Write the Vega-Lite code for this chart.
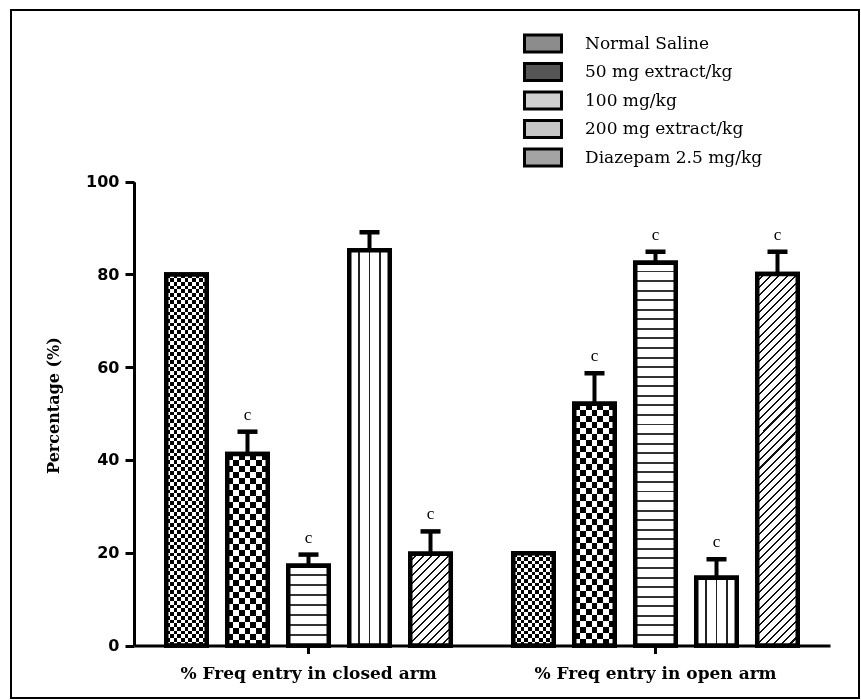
{
  "$schema": "https://vega.github.io/schema/vega-lite/v6.json",
  "width": 848,
  "height": 688,
  "autosize": "none",
  "padding": {"left": 11, "top": 10, "right": 2, "bottom": 2},
  "background": "white",
  "data": {
    "values": [
      {"arm": "% Freq entry in closed arm", "treatment": "Normal Saline", "id": "c1", "value": 80.0, "upper": null, "sig": ""},
      {"arm": "% Freq entry in closed arm", "treatment": "50 mg extract/kg", "id": "c2", "value": 41.3, "upper": 46.1, "sig": "c"},
      {"arm": "% Freq entry in closed arm", "treatment": "100 mg/kg", "id": "c3", "value": 17.2, "upper": 19.6, "sig": "c"},
      {"arm": "% Freq entry in closed arm", "treatment": "200 mg extract/kg", "id": "c4", "value": 85.2, "upper": 89.1, "sig": ""},
      {"arm": "% Freq entry in closed arm", "treatment": "Diazepam 2.5 mg/kg", "id": "c5", "value": 19.8, "upper": 24.6, "sig": "c"},
      {"arm": "% Freq entry in open arm", "treatment": "Normal Saline", "id": "o1", "value": 19.9, "upper": null, "sig": ""},
      {"arm": "% Freq entry in open arm", "treatment": "50 mg extract/kg", "id": "o2", "value": 52.1, "upper": 58.7, "sig": "c"},
      {"arm": "% Freq entry in open arm", "treatment": "100 mg/kg", "id": "o3", "value": 82.5, "upper": 84.9, "sig": "c"},
      {"arm": "% Freq entry in open arm", "treatment": "200 mg extract/kg", "id": "o4", "value": 14.6, "upper": 18.6, "sig": "c"},
      {"arm": "% Freq entry in open arm", "treatment": "Diazepam 2.5 mg/kg", "id": "o5", "value": 80.1, "upper": 84.9, "sig": "c"}
    ]
  },
  "encoding": {
    "x": {
      "field": "arm", "type": "nominal",
      "scale": {"range": [123, 819], "paddingInner": 0.121, "paddingOuter": 0.0634},
      "axis": {
        "title": null, "orient": "bottom", "offset": -52.5, "labelAngle": 0,
        "domainWidth": 3, "domainColor": "black", "tickWidth": 3, "tickSize": 8, "tickColor": "black",
        "labelFont": "DejaVu Serif", "labelFontWeight": "bold", "labelFontSize": 17, "labelColor": "black",
        "labelPadding": 12, "labelLimit": 400
      }
    },
    "xOffset": {
      "field": "treatment", "type": "nominal",
      "scale": {"domain": ["Normal Saline", "50 mg extract/kg", "100 mg/kg", "200 mg extract/kg", "Diazepam 2.5 mg/kg"], "paddingInner": 0.336, "paddingOuter": 0.168}
    },
    "y": {
      "field": "value", "type": "quantitative", "title": "Percentage (%)",
      "scale": {"domain": [0, 100], "range": [635.5, 171.7], "nice": false},
      "axis": {
        "title": "Percentage (%)", "offset": -123, "values": [0, 20, 40, 60, 80, 100], "grid": false,
        "domainWidth": 3, "domainColor": "black", "tickWidth": 3, "tickSize": 9, "tickColor": "black",
        "labelFont": "DejaVu Sans", "labelFontWeight": "bold", "labelFontSize": 16, "labelColor": "black", "labelPadding": 6,
        "titleFont": "DejaVu Serif", "titleFontWeight": "bold", "titleFontSize": 16, "titleColor": "black",
        "titleX": -73, "titleY": 395, "titleAngle": 270, "titleBaseline": "bottom", "titleAlign": "center"
      }
    }
  },
  "layer": [
    {
      "mark": {"type": "bar", "stroke": "black", "strokeWidth": 4.5},
      "encoding": {
        "fill": {
          "field": "treatment", "type": "nominal",
          "scale": {
            "domain": ["Normal Saline", "50 mg extract/kg", "100 mg/kg", "200 mg extract/kg", "Diazepam 2.5 mg/kg"],
            "range": ["#8c8c8c", "#555555", "#cfcfcf", "#c6c6c6", "#a3a3a3"]
          },
          "legend": {
            "orient": "none", "legendX": 520.5, "legendY": 22, "title": null,
            "symbolType": "M-1.85,-0.85H1.85V0.85H-1.85Z", "symbolSize": 400,
            "symbolStrokeColor": "black", "symbolStrokeWidth": 3, "symbolOpacity": 1,
            "labelFont": "DejaVu Serif", "labelFontSize": 17, "labelColor": "black",
            "labelOffset": 30.5, "rowPadding": -0.5, "padding": 0, "labelLimit": 400
          }
        }
      }
    },
    {
      "mark": {"type": "bar", "stroke": "black", "strokeWidth": 4.5},
      "encoding": {
        "fill": {
          "condition": [
            {"test": "datum.id === 'c1'", "value": {"gradient": "linear", "x1": 0, "y1": 0, "x2": 0, "y2": 1, "stops": [
                {"offset": 0, "color": "#fff"}, {"offset": 0.01, "color": "#fff"}, {"offset": 0.01, "color": "#000"}, {"offset": 0.02, "color": "#000"},
                {"offset": 0.02, "color": "#fff"}, {"offset": 0.03, "color": "#fff"}, {"offset": 0.03, "color": "#000"}, {"offset": 0.04, "color": "#000"},
                {"offset": 0.04, "color": "#fff"}, {"offset": 0.05, "color": "#fff"}, {"offset": 0.05, "color": "#000"}, {"offset": 0.06, "color": "#000"},
                {"offset": 0.06, "color": "#fff"}, {"offset": 0.07, "color": "#fff"}, {"offset": 0.07, "color": "#000"}, {"offset": 0.08, "color": "#000"},
                {"offset": 0.08, "color": "#fff"}, {"offset": 0.09, "color": "#fff"}, {"offset": 0.09, "color": "#000"}, {"offset": 0.1, "color": "#000"},
                {"offset": 0.1, "color": "#fff"}, {"offset": 0.11, "color": "#fff"}, {"offset": 0.11, "color": "#000"}, {"offset": 0.12, "color": "#000"},
                {"offset": 0.12, "color": "#fff"}, {"offset": 0.13, "color": "#fff"}, {"offset": 0.13, "color": "#000"}, {"offset": 0.14, "color": "#000"},
                {"offset": 0.14, "color": "#fff"}, {"offset": 0.15, "color": "#fff"}, {"offset": 0.15, "color": "#000"}, {"offset": 0.16, "color": "#000"},
                {"offset": 0.16, "color": "#fff"}, {"offset": 0.17, "color": "#fff"}, {"offset": 0.17, "color": "#000"}, {"offset": 0.18, "color": "#000"},
                {"offset": 0.18, "color": "#fff"}, {"offset": 0.19, "color": "#fff"}, {"offset": 0.19, "color": "#000"}, {"offset": 0.2, "color": "#000"},
                {"offset": 0.2, "color": "#fff"}, {"offset": 0.21, "color": "#fff"}, {"offset": 0.21, "color": "#000"}, {"offset": 0.22, "color": "#000"},
                {"offset": 0.22, "color": "#fff"}, {"offset": 0.23, "color": "#fff"}, {"offset": 0.23, "color": "#000"}, {"offset": 0.24, "color": "#000"},
                {"offset": 0.24, "color": "#fff"}, {"offset": 0.25, "color": "#fff"}, {"offset": 0.25, "color": "#000"}, {"offset": 0.26, "color": "#000"},
                {"offset": 0.26, "color": "#fff"}, {"offset": 0.27, "color": "#fff"}, {"offset": 0.27, "color": "#000"}, {"offset": 0.28, "color": "#000"},
                {"offset": 0.28, "color": "#fff"}, {"offset": 0.29, "color": "#fff"}, {"offset": 0.29, "color": "#000"}, {"offset": 0.3, "color": "#000"},
                {"offset": 0.3, "color": "#fff"}, {"offset": 0.31, "color": "#fff"}, {"offset": 0.31, "color": "#000"}, {"offset": 0.32, "color": "#000"},
                {"offset": 0.32, "color": "#fff"}, {"offset": 0.33, "color": "#fff"}, {"offset": 0.33, "color": "#000"}, {"offset": 0.34, "color": "#000"},
                {"offset": 0.34, "color": "#fff"}, {"offset": 0.35, "color": "#fff"}, {"offset": 0.35, "color": "#000"}, {"offset": 0.36, "color": "#000"},
                {"offset": 0.36, "color": "#fff"}, {"offset": 0.37, "color": "#fff"}, {"offset": 0.37, "color": "#000"}, {"offset": 0.38, "color": "#000"},
                {"offset": 0.38, "color": "#fff"}, {"offset": 0.39, "color": "#fff"}, {"offset": 0.39, "color": "#000"}, {"offset": 0.4, "color": "#000"},
                {"offset": 0.4, "color": "#fff"}, {"offset": 0.41, "color": "#fff"}, {"offset": 0.41, "color": "#000"}, {"offset": 0.42, "color": "#000"},
                {"offset": 0.42, "color": "#fff"}, {"offset": 0.43, "color": "#fff"}, {"offset": 0.43, "color": "#000"}, {"offset": 0.44, "color": "#000"},
                {"offset": 0.44, "color": "#fff"}, {"offset": 0.45, "color": "#fff"}, {"offset": 0.45, "color": "#000"}, {"offset": 0.46, "color": "#000"},
                {"offset": 0.46, "color": "#fff"}, {"offset": 0.47, "color": "#fff"}, {"offset": 0.47, "color": "#000"}, {"offset": 0.48, "color": "#000"},
                {"offset": 0.48, "color": "#fff"}, {"offset": 0.49, "color": "#fff"}, {"offset": 0.49, "color": "#000"}, {"offset": 0.5, "color": "#000"},
                {"offset": 0.5, "color": "#fff"}, {"offset": 0.51, "color": "#fff"}, {"offset": 0.51, "color": "#000"}, {"offset": 0.52, "color": "#000"},
                {"offset": 0.52, "color": "#fff"}, {"offset": 0.53, "color": "#fff"}, {"offset": 0.53, "color": "#000"}, {"offset": 0.54, "color": "#000"},
                {"offset": 0.54, "color": "#fff"}, {"offset": 0.55, "color": "#fff"}, {"offset": 0.55, "color": "#000"}, {"offset": 0.56, "color": "#000"},
                {"offset": 0.56, "color": "#fff"}, {"offset": 0.57, "color": "#fff"}, {"offset": 0.57, "color": "#000"}, {"offset": 0.58, "color": "#000"},
                {"offset": 0.58, "color": "#fff"}, {"offset": 0.59, "color": "#fff"}, {"offset": 0.59, "color": "#000"}, {"offset": 0.6, "color": "#000"},
                {"offset": 0.6, "color": "#fff"}, {"offset": 0.61, "color": "#fff"}, {"offset": 0.61, "color": "#000"}, {"offset": 0.62, "color": "#000"},
                {"offset": 0.62, "color": "#fff"}, {"offset": 0.63, "color": "#fff"}, {"offset": 0.63, "color": "#000"}, {"offset": 0.64, "color": "#000"},
                {"offset": 0.64, "color": "#fff"}, {"offset": 0.65, "color": "#fff"}, {"offset": 0.65, "color": "#000"}, {"offset": 0.66, "color": "#000"},
                {"offset": 0.66, "color": "#fff"}, {"offset": 0.67, "color": "#fff"}, {"offset": 0.67, "color": "#000"}, {"offset": 0.68, "color": "#000"},
                {"offset": 0.68, "color": "#fff"}, {"offset": 0.69, "color": "#fff"}, {"offset": 0.69, "color": "#000"}, {"offset": 0.7, "color": "#000"},
                {"offset": 0.7, "color": "#fff"}, {"offset": 0.71, "color": "#fff"}, {"offset": 0.71, "color": "#000"}, {"offset": 0.72, "color": "#000"},
                {"offset": 0.72, "color": "#fff"}, {"offset": 0.73, "color": "#fff"}, {"offset": 0.73, "color": "#000"}, {"offset": 0.74, "color": "#000"},
                {"offset": 0.74, "color": "#fff"}, {"offset": 0.75, "color": "#fff"}, {"offset": 0.75, "color": "#000"}, {"offset": 0.76, "color": "#000"},
                {"offset": 0.76, "color": "#fff"}, {"offset": 0.77, "color": "#fff"}, {"offset": 0.77, "color": "#000"}, {"offset": 0.78, "color": "#000"},
                {"offset": 0.78, "color": "#fff"}, {"offset": 0.79, "color": "#fff"}, {"offset": 0.79, "color": "#000"}, {"offset": 0.8, "color": "#000"},
                {"offset": 0.8, "color": "#fff"}, {"offset": 0.81, "color": "#fff"}, {"offset": 0.81, "color": "#000"}, {"offset": 0.82, "color": "#000"},
                {"offset": 0.82, "color": "#fff"}, {"offset": 0.83, "color": "#fff"}, {"offset": 0.83, "color": "#000"}, {"offset": 0.84, "color": "#000"},
                {"offset": 0.84, "color": "#fff"}, {"offset": 0.85, "color": "#fff"}, {"offset": 0.85, "color": "#000"}, {"offset": 0.86, "color": "#000"},
                {"offset": 0.86, "color": "#fff"}, {"offset": 0.87, "color": "#fff"}, {"offset": 0.87, "color": "#000"}, {"offset": 0.88, "color": "#000"},
                {"offset": 0.88, "color": "#fff"}, {"offset": 0.89, "color": "#fff"}, {"offset": 0.89, "color": "#000"}, {"offset": 0.9, "color": "#000"},
                {"offset": 0.9, "color": "#fff"}, {"offset": 0.91, "color": "#fff"}, {"offset": 0.91, "color": "#000"}, {"offset": 0.92, "color": "#000"},
                {"offset": 0.92, "color": "#fff"}, {"offset": 0.93, "color": "#fff"}, {"offset": 0.93, "color": "#000"}, {"offset": 0.94, "color": "#000"},
                {"offset": 0.94, "color": "#fff"}, {"offset": 0.95, "color": "#fff"}, {"offset": 0.95, "color": "#000"}, {"offset": 0.96, "color": "#000"},
                {"offset": 0.96, "color": "#fff"}, {"offset": 0.97, "color": "#fff"}, {"offset": 0.97, "color": "#000"}, {"offset": 0.98, "color": "#000"},
                {"offset": 0.98, "color": "#fff"}, {"offset": 0.99, "color": "#fff"}, {"offset": 0.99, "color": "#000"}, {"offset": 1, "color": "#000"}]}},
            {"test": "datum.id === 'o1'", "value": {"gradient": "linear", "x1": 0, "y1": 0, "x2": 0, "y2": 1, "stops": [
                {"offset": 0, "color": "#fff"}, {"offset": 0.04, "color": "#fff"}, {"offset": 0.04, "color": "#000"}, {"offset": 0.08, "color": "#000"},
                {"offset": 0.08, "color": "#fff"}, {"offset": 0.12, "color": "#fff"}, {"offset": 0.12, "color": "#000"}, {"offset": 0.16, "color": "#000"},
                {"offset": 0.16, "color": "#fff"}, {"offset": 0.2, "color": "#fff"}, {"offset": 0.2, "color": "#000"}, {"offset": 0.24, "color": "#000"},
                {"offset": 0.24, "color": "#fff"}, {"offset": 0.28, "color": "#fff"}, {"offset": 0.28, "color": "#000"}, {"offset": 0.32, "color": "#000"},
                {"offset": 0.32, "color": "#fff"}, {"offset": 0.36, "color": "#fff"}, {"offset": 0.36, "color": "#000"}, {"offset": 0.4, "color": "#000"},
                {"offset": 0.4, "color": "#fff"}, {"offset": 0.44, "color": "#fff"}, {"offset": 0.44, "color": "#000"}, {"offset": 0.48, "color": "#000"},
                {"offset": 0.48, "color": "#fff"}, {"offset": 0.52, "color": "#fff"}, {"offset": 0.52, "color": "#000"}, {"offset": 0.56, "color": "#000"},
                {"offset": 0.56, "color": "#fff"}, {"offset": 0.6, "color": "#fff"}, {"offset": 0.6, "color": "#000"}, {"offset": 0.64, "color": "#000"},
                {"offset": 0.64, "color": "#fff"}, {"offset": 0.68, "color": "#fff"}, {"offset": 0.68, "color": "#000"}, {"offset": 0.72, "color": "#000"},
                {"offset": 0.72, "color": "#fff"}, {"offset": 0.76, "color": "#fff"}, {"offset": 0.76, "color": "#000"}, {"offset": 0.8, "color": "#000"},
                {"offset": 0.8, "color": "#fff"}, {"offset": 0.84, "color": "#fff"}, {"offset": 0.84, "color": "#000"}, {"offset": 0.88, "color": "#000"},
                {"offset": 0.88, "color": "#fff"}, {"offset": 0.92, "color": "#fff"}, {"offset": 0.92, "color": "#000"}, {"offset": 0.96, "color": "#000"},
                {"offset": 0.96, "color": "#fff"}, {"offset": 1, "color": "#fff"}]}},
            {"test": "datum.id === 'c2'", "value": {"gradient": "linear", "x1": 0, "y1": 0, "x2": 0, "y2": 1, "stops": [
                {"offset": 0, "color": "#fff"}, {"offset": 0.03125, "color": "#fff"}, {"offset": 0.03125, "color": "#000"}, {"offset": 0.0625, "color": "#000"},
                {"offset": 0.0625, "color": "#fff"}, {"offset": 0.09375, "color": "#fff"}, {"offset": 0.09375, "color": "#000"}, {"offset": 0.125, "color": "#000"},
                {"offset": 0.125, "color": "#fff"}, {"offset": 0.15625, "color": "#fff"}, {"offset": 0.15625, "color": "#000"}, {"offset": 0.1875, "color": "#000"},
                {"offset": 0.1875, "color": "#fff"}, {"offset": 0.21875, "color": "#fff"}, {"offset": 0.21875, "color": "#000"}, {"offset": 0.25, "color": "#000"},
                {"offset": 0.25, "color": "#fff"}, {"offset": 0.28125, "color": "#fff"}, {"offset": 0.28125, "color": "#000"}, {"offset": 0.3125, "color": "#000"},
                {"offset": 0.3125, "color": "#fff"}, {"offset": 0.34375, "color": "#fff"}, {"offset": 0.34375, "color": "#000"}, {"offset": 0.375, "color": "#000"},
                {"offset": 0.375, "color": "#fff"}, {"offset": 0.40625, "color": "#fff"}, {"offset": 0.40625, "color": "#000"}, {"offset": 0.4375, "color": "#000"},
                {"offset": 0.4375, "color": "#fff"}, {"offset": 0.46875, "color": "#fff"}, {"offset": 0.46875, "color": "#000"}, {"offset": 0.5, "color": "#000"},
                {"offset": 0.5, "color": "#fff"}, {"offset": 0.53125, "color": "#fff"}, {"offset": 0.53125, "color": "#000"}, {"offset": 0.5625, "color": "#000"},
                {"offset": 0.5625, "color": "#fff"}, {"offset": 0.59375, "color": "#fff"}, {"offset": 0.59375, "color": "#000"}, {"offset": 0.625, "color": "#000"},
                {"offset": 0.625, "color": "#fff"}, {"offset": 0.65625, "color": "#fff"}, {"offset": 0.65625, "color": "#000"}, {"offset": 0.6875, "color": "#000"},
                {"offset": 0.6875, "color": "#fff"}, {"offset": 0.71875, "color": "#fff"}, {"offset": 0.71875, "color": "#000"}, {"offset": 0.75, "color": "#000"},
                {"offset": 0.75, "color": "#fff"}, {"offset": 0.78125, "color": "#fff"}, {"offset": 0.78125, "color": "#000"}, {"offset": 0.8125, "color": "#000"},
                {"offset": 0.8125, "color": "#fff"}, {"offset": 0.84375, "color": "#fff"}, {"offset": 0.84375, "color": "#000"}, {"offset": 0.875, "color": "#000"},
                {"offset": 0.875, "color": "#fff"}, {"offset": 0.90625, "color": "#fff"}, {"offset": 0.90625, "color": "#000"}, {"offset": 0.9375, "color": "#000"},
                {"offset": 0.9375, "color": "#fff"}, {"offset": 0.96875, "color": "#fff"}, {"offset": 0.96875, "color": "#000"}, {"offset": 1, "color": "#000"}]}},
            {"test": "datum.id === 'o2'", "value": {"gradient": "linear", "x1": 0, "y1": 0, "x2": 0, "y2": 1, "stops": [
                {"offset": 0, "color": "#fff"}, {"offset": 0.025, "color": "#fff"}, {"offset": 0.025, "color": "#000"}, {"offset": 0.05, "color": "#000"},
                {"offset": 0.05, "color": "#fff"}, {"offset": 0.075, "color": "#fff"}, {"offset": 0.075, "color": "#000"}, {"offset": 0.1, "color": "#000"},
                {"offset": 0.1, "color": "#fff"}, {"offset": 0.125, "color": "#fff"}, {"offset": 0.125, "color": "#000"}, {"offset": 0.15, "color": "#000"},
                {"offset": 0.15, "color": "#fff"}, {"offset": 0.175, "color": "#fff"}, {"offset": 0.175, "color": "#000"}, {"offset": 0.2, "color": "#000"},
                {"offset": 0.2, "color": "#fff"}, {"offset": 0.225, "color": "#fff"}, {"offset": 0.225, "color": "#000"}, {"offset": 0.25, "color": "#000"},
                {"offset": 0.25, "color": "#fff"}, {"offset": 0.275, "color": "#fff"}, {"offset": 0.275, "color": "#000"}, {"offset": 0.3, "color": "#000"},
                {"offset": 0.3, "color": "#fff"}, {"offset": 0.325, "color": "#fff"}, {"offset": 0.325, "color": "#000"}, {"offset": 0.35, "color": "#000"},
                {"offset": 0.35, "color": "#fff"}, {"offset": 0.375, "color": "#fff"}, {"offset": 0.375, "color": "#000"}, {"offset": 0.4, "color": "#000"},
                {"offset": 0.4, "color": "#fff"}, {"offset": 0.425, "color": "#fff"}, {"offset": 0.425, "color": "#000"}, {"offset": 0.45, "color": "#000"},
                {"offset": 0.45, "color": "#fff"}, {"offset": 0.475, "color": "#fff"}, {"offset": 0.475, "color": "#000"}, {"offset": 0.5, "color": "#000"},
                {"offset": 0.5, "color": "#fff"}, {"offset": 0.525, "color": "#fff"}, {"offset": 0.525, "color": "#000"}, {"offset": 0.55, "color": "#000"},
                {"offset": 0.55, "color": "#fff"}, {"offset": 0.575, "color": "#fff"}, {"offset": 0.575, "color": "#000"}, {"offset": 0.6, "color": "#000"},
                {"offset": 0.6, "color": "#fff"}, {"offset": 0.625, "color": "#fff"}, {"offset": 0.625, "color": "#000"}, {"offset": 0.65, "color": "#000"},
                {"offset": 0.65, "color": "#fff"}, {"offset": 0.675, "color": "#fff"}, {"offset": 0.675, "color": "#000"}, {"offset": 0.7, "color": "#000"},
                {"offset": 0.7, "color": "#fff"}, {"offset": 0.725, "color": "#fff"}, {"offset": 0.725, "color": "#000"}, {"offset": 0.75, "color": "#000"},
                {"offset": 0.75, "color": "#fff"}, {"offset": 0.775, "color": "#fff"}, {"offset": 0.775, "color": "#000"}, {"offset": 0.8, "color": "#000"},
                {"offset": 0.8, "color": "#fff"}, {"offset": 0.825, "color": "#fff"}, {"offset": 0.825, "color": "#000"}, {"offset": 0.85, "color": "#000"},
                {"offset": 0.85, "color": "#fff"}, {"offset": 0.875, "color": "#fff"}, {"offset": 0.875, "color": "#000"}, {"offset": 0.9, "color": "#000"},
                {"offset": 0.9, "color": "#fff"}, {"offset": 0.925, "color": "#fff"}, {"offset": 0.925, "color": "#000"}, {"offset": 0.95, "color": "#000"},
                {"offset": 0.95, "color": "#fff"}, {"offset": 0.975, "color": "#fff"}, {"offset": 0.975, "color": "#000"}, {"offset": 1, "color": "#000"}]}},
            {"test": "datum.id === 'c3'", "value": {"gradient": "linear", "x1": 0, "y1": 0, "x2": 0, "y2": 1, "stops": [
                {"offset": 0, "color": "#fff"}, {"offset": 0.1, "color": "#fff"}, {"offset": 0.1, "color": "#333"}, {"offset": 0.125, "color": "#333"},
                {"offset": 0.125, "color": "#fff"}, {"offset": 0.225, "color": "#fff"}, {"offset": 0.225, "color": "#333"}, {"offset": 0.25, "color": "#333"},
                {"offset": 0.25, "color": "#fff"}, {"offset": 0.35, "color": "#fff"}, {"offset": 0.35, "color": "#333"}, {"offset": 0.375, "color": "#333"},
                {"offset": 0.375, "color": "#fff"}, {"offset": 0.475, "color": "#fff"}, {"offset": 0.475, "color": "#333"}, {"offset": 0.5, "color": "#333"},
                {"offset": 0.5, "color": "#fff"}, {"offset": 0.6, "color": "#fff"}, {"offset": 0.6, "color": "#333"}, {"offset": 0.625, "color": "#333"},
                {"offset": 0.625, "color": "#fff"}, {"offset": 0.725, "color": "#fff"}, {"offset": 0.725, "color": "#333"}, {"offset": 0.75, "color": "#333"},
                {"offset": 0.75, "color": "#fff"}, {"offset": 0.85, "color": "#fff"}, {"offset": 0.85, "color": "#333"}, {"offset": 0.875, "color": "#333"},
                {"offset": 0.875, "color": "#fff"}, {"offset": 1, "color": "#fff"}]}},
            {"test": "datum.treatment === '200 mg extract/kg'", "value": {"gradient": "linear", "x1": 0, "y1": 0, "x2": 1, "y2": 0, "stops": [
                {"offset": 0, "color": "#fff"}, {"offset": 0.228, "color": "#fff"}, {"offset": 0.228, "color": "#222"}, {"offset": 0.272, "color": "#222"}, {"offset": 0.272, "color": "#fff"}, {"offset": 0.478, "color": "#fff"}, {"offset": 0.478, "color": "#222"}, {"offset": 0.522, "color": "#222"}, {"offset": 0.522, "color": "#fff"}, {"offset": 0.728, "color": "#fff"}, {"offset": 0.728, "color": "#222"}, {"offset": 0.772, "color": "#222"}, {"offset": 0.772, "color": "#fff"}, {"offset": 1, "color": "#fff"}]}},
            {"test": "datum.id === 'c5'", "value": {"gradient": "linear", "x1": 0, "y1": 0, "x2": 0.532, "y2": 1.206, "stops": [
                {"offset": 0, "color": "#fff"}, {"offset": 0.0469, "color": "#fff"}, {"offset": 0.0469, "color": "#111"}, {"offset": 0.0625, "color": "#111"},
                {"offset": 0.0625, "color": "#fff"}, {"offset": 0.1094, "color": "#fff"}, {"offset": 0.1094, "color": "#111"}, {"offset": 0.125, "color": "#111"},
                {"offset": 0.125, "color": "#fff"}, {"offset": 0.1719, "color": "#fff"}, {"offset": 0.1719, "color": "#111"}, {"offset": 0.1875, "color": "#111"},
                {"offset": 0.1875, "color": "#fff"}, {"offset": 0.2344, "color": "#fff"}, {"offset": 0.2344, "color": "#111"}, {"offset": 0.25, "color": "#111"},
                {"offset": 0.25, "color": "#fff"}, {"offset": 0.2969, "color": "#fff"}, {"offset": 0.2969, "color": "#111"}, {"offset": 0.3125, "color": "#111"},
                {"offset": 0.3125, "color": "#fff"}, {"offset": 0.3594, "color": "#fff"}, {"offset": 0.3594, "color": "#111"}, {"offset": 0.375, "color": "#111"},
                {"offset": 0.375, "color": "#fff"}, {"offset": 0.4219, "color": "#fff"}, {"offset": 0.4219, "color": "#111"}, {"offset": 0.4375, "color": "#111"},
                {"offset": 0.4375, "color": "#fff"}, {"offset": 0.4844, "color": "#fff"}, {"offset": 0.4844, "color": "#111"}, {"offset": 0.5, "color": "#111"},
                {"offset": 0.5, "color": "#fff"}, {"offset": 0.5469, "color": "#fff"}, {"offset": 0.5469, "color": "#111"}, {"offset": 0.5625, "color": "#111"},
                {"offset": 0.5625, "color": "#fff"}, {"offset": 0.6094, "color": "#fff"}, {"offset": 0.6094, "color": "#111"}, {"offset": 0.625, "color": "#111"},
                {"offset": 0.625, "color": "#fff"}, {"offset": 0.6719, "color": "#fff"}, {"offset": 0.6719, "color": "#111"}, {"offset": 0.6875, "color": "#111"},
                {"offset": 0.6875, "color": "#fff"}, {"offset": 0.7344, "color": "#fff"}, {"offset": 0.7344, "color": "#111"}, {"offset": 0.75, "color": "#111"},
                {"offset": 0.75, "color": "#fff"}, {"offset": 0.7969, "color": "#fff"}, {"offset": 0.7969, "color": "#111"}, {"offset": 0.8125, "color": "#111"},
                {"offset": 0.8125, "color": "#fff"}, {"offset": 0.8594, "color": "#fff"}, {"offset": 0.8594, "color": "#111"}, {"offset": 0.875, "color": "#111"},
                {"offset": 0.875, "color": "#fff"}, {"offset": 0.9219, "color": "#fff"}, {"offset": 0.9219, "color": "#111"}, {"offset": 0.9375, "color": "#111"},
                {"offset": 0.9375, "color": "#fff"}, {"offset": 0.9844, "color": "#fff"}, {"offset": 0.9844, "color": "#111"}, {"offset": 1, "color": "#111"}]}},
            {"test": "datum.id === 'o3'", "value": {"gradient": "linear", "x1": 0, "y1": 0, "x2": 0, "y2": 1, "stops": [
                {"offset": 0, "color": "#fff"}, {"offset": 0.02, "color": "#fff"}, {"offset": 0.02, "color": "#333"}, {"offset": 0.025, "color": "#333"},
                {"offset": 0.025, "color": "#fff"}, {"offset": 0.045, "color": "#fff"}, {"offset": 0.045, "color": "#333"}, {"offset": 0.05, "color": "#333"},
                {"offset": 0.05, "color": "#fff"}, {"offset": 0.07, "color": "#fff"}, {"offset": 0.07, "color": "#333"}, {"offset": 0.075, "color": "#333"},
                {"offset": 0.075, "color": "#fff"}, {"offset": 0.095, "color": "#fff"}, {"offset": 0.095, "color": "#333"}, {"offset": 0.1, "color": "#333"},
                {"offset": 0.1, "color": "#fff"}, {"offset": 0.12, "color": "#fff"}, {"offset": 0.12, "color": "#333"}, {"offset": 0.125, "color": "#333"},
                {"offset": 0.125, "color": "#fff"}, {"offset": 0.145, "color": "#fff"}, {"offset": 0.145, "color": "#333"}, {"offset": 0.15, "color": "#333"},
                {"offset": 0.15, "color": "#fff"}, {"offset": 0.17, "color": "#fff"}, {"offset": 0.17, "color": "#333"}, {"offset": 0.175, "color": "#333"},
                {"offset": 0.175, "color": "#fff"}, {"offset": 0.195, "color": "#fff"}, {"offset": 0.195, "color": "#333"}, {"offset": 0.2, "color": "#333"},
                {"offset": 0.2, "color": "#fff"}, {"offset": 0.22, "color": "#fff"}, {"offset": 0.22, "color": "#333"}, {"offset": 0.225, "color": "#333"},
                {"offset": 0.225, "color": "#fff"}, {"offset": 0.245, "color": "#fff"}, {"offset": 0.245, "color": "#333"}, {"offset": 0.25, "color": "#333"},
                {"offset": 0.25, "color": "#fff"}, {"offset": 0.27, "color": "#fff"}, {"offset": 0.27, "color": "#333"}, {"offset": 0.275, "color": "#333"},
                {"offset": 0.275, "color": "#fff"}, {"offset": 0.295, "color": "#fff"}, {"offset": 0.295, "color": "#333"}, {"offset": 0.3, "color": "#333"},
                {"offset": 0.3, "color": "#fff"}, {"offset": 0.32, "color": "#fff"}, {"offset": 0.32, "color": "#333"}, {"offset": 0.325, "color": "#333"},
                {"offset": 0.325, "color": "#fff"}, {"offset": 0.345, "color": "#fff"}, {"offset": 0.345, "color": "#333"}, {"offset": 0.35, "color": "#333"},
                {"offset": 0.35, "color": "#fff"}, {"offset": 0.37, "color": "#fff"}, {"offset": 0.37, "color": "#333"}, {"offset": 0.375, "color": "#333"},
                {"offset": 0.375, "color": "#fff"}, {"offset": 0.395, "color": "#fff"}, {"offset": 0.395, "color": "#333"}, {"offset": 0.4, "color": "#333"},
                {"offset": 0.4, "color": "#fff"}, {"offset": 0.42, "color": "#fff"}, {"offset": 0.42, "color": "#333"}, {"offset": 0.425, "color": "#333"},
                {"offset": 0.425, "color": "#fff"}, {"offset": 0.445, "color": "#fff"}, {"offset": 0.445, "color": "#333"}, {"offset": 0.45, "color": "#333"},
                {"offset": 0.45, "color": "#fff"}, {"offset": 0.47, "color": "#fff"}, {"offset": 0.47, "color": "#333"}, {"offset": 0.475, "color": "#333"},
                {"offset": 0.475, "color": "#fff"}, {"offset": 0.495, "color": "#fff"}, {"offset": 0.495, "color": "#333"}, {"offset": 0.5, "color": "#333"},
                {"offset": 0.5, "color": "#fff"}, {"offset": 0.52, "color": "#fff"}, {"offset": 0.52, "color": "#333"}, {"offset": 0.525, "color": "#333"},
                {"offset": 0.525, "color": "#fff"}, {"offset": 0.545, "color": "#fff"}, {"offset": 0.545, "color": "#333"}, {"offset": 0.55, "color": "#333"},
                {"offset": 0.55, "color": "#fff"}, {"offset": 0.57, "color": "#fff"}, {"offset": 0.57, "color": "#333"}, {"offset": 0.575, "color": "#333"},
                {"offset": 0.575, "color": "#fff"}, {"offset": 0.595, "color": "#fff"}, {"offset": 0.595, "color": "#333"}, {"offset": 0.6, "color": "#333"},
                {"offset": 0.6, "color": "#fff"}, {"offset": 0.62, "color": "#fff"}, {"offset": 0.62, "color": "#333"}, {"offset": 0.625, "color": "#333"},
                {"offset": 0.625, "color": "#fff"}, {"offset": 0.645, "color": "#fff"}, {"offset": 0.645, "color": "#333"}, {"offset": 0.65, "color": "#333"},
                {"offset": 0.65, "color": "#fff"}, {"offset": 0.67, "color": "#fff"}, {"offset": 0.67, "color": "#333"}, {"offset": 0.675, "color": "#333"},
                {"offset": 0.675, "color": "#fff"}, {"offset": 0.695, "color": "#fff"}, {"offset": 0.695, "color": "#333"}, {"offset": 0.7, "color": "#333"},
                {"offset": 0.7, "color": "#fff"}, {"offset": 0.72, "color": "#fff"}, {"offset": 0.72, "color": "#333"}, {"offset": 0.725, "color": "#333"},
                {"offset": 0.725, "color": "#fff"}, {"offset": 0.745, "color": "#fff"}, {"offset": 0.745, "color": "#333"}, {"offset": 0.75, "color": "#333"},
                {"offset": 0.75, "color": "#fff"}, {"offset": 0.77, "color": "#fff"}, {"offset": 0.77, "color": "#333"}, {"offset": 0.775, "color": "#333"},
                {"offset": 0.775, "color": "#fff"}, {"offset": 0.795, "color": "#fff"}, {"offset": 0.795, "color": "#333"}, {"offset": 0.8, "color": "#333"},
                {"offset": 0.8, "color": "#fff"}, {"offset": 0.82, "color": "#fff"}, {"offset": 0.82, "color": "#333"}, {"offset": 0.825, "color": "#333"},
                {"offset": 0.825, "color": "#fff"}, {"offset": 0.845, "color": "#fff"}, {"offset": 0.845, "color": "#333"}, {"offset": 0.85, "color": "#333"},
                {"offset": 0.85, "color": "#fff"}, {"offset": 0.87, "color": "#fff"}, {"offset": 0.87, "color": "#333"}, {"offset": 0.875, "color": "#333"},
                {"offset": 0.875, "color": "#fff"}, {"offset": 0.895, "color": "#fff"}, {"offset": 0.895, "color": "#333"}, {"offset": 0.9, "color": "#333"},
                {"offset": 0.9, "color": "#fff"}, {"offset": 0.92, "color": "#fff"}, {"offset": 0.92, "color": "#333"}, {"offset": 0.925, "color": "#333"},
                {"offset": 0.925, "color": "#fff"}, {"offset": 0.945, "color": "#fff"}, {"offset": 0.945, "color": "#333"}, {"offset": 0.95, "color": "#333"},
                {"offset": 0.95, "color": "#fff"}, {"offset": 0.97, "color": "#fff"}, {"offset": 0.97, "color": "#333"}, {"offset": 0.975, "color": "#333"},
                {"offset": 0.975, "color": "#fff"}, {"offset": 1, "color": "#fff"}]}}
          ],
          "value": {"gradient": "linear", "x1": 0, "y1": 0, "x2": 0.1196, "y2": 1.0961, "stops": [
                {"offset": 0, "color": "#fff"}, {"offset": 0.015, "color": "#fff"}, {"offset": 0.015, "color": "#111"}, {"offset": 0.02, "color": "#111"},
                {"offset": 0.02, "color": "#fff"}, {"offset": 0.035, "color": "#fff"}, {"offset": 0.035, "color": "#111"}, {"offset": 0.04, "color": "#111"},
                {"offset": 0.04, "color": "#fff"}, {"offset": 0.055, "color": "#fff"}, {"offset": 0.055, "color": "#111"}, {"offset": 0.06, "color": "#111"},
                {"offset": 0.06, "color": "#fff"}, {"offset": 0.075, "color": "#fff"}, {"offset": 0.075, "color": "#111"}, {"offset": 0.08, "color": "#111"},
                {"offset": 0.08, "color": "#fff"}, {"offset": 0.095, "color": "#fff"}, {"offset": 0.095, "color": "#111"}, {"offset": 0.1, "color": "#111"},
                {"offset": 0.1, "color": "#fff"}, {"offset": 0.115, "color": "#fff"}, {"offset": 0.115, "color": "#111"}, {"offset": 0.12, "color": "#111"},
                {"offset": 0.12, "color": "#fff"}, {"offset": 0.135, "color": "#fff"}, {"offset": 0.135, "color": "#111"}, {"offset": 0.14, "color": "#111"},
                {"offset": 0.14, "color": "#fff"}, {"offset": 0.155, "color": "#fff"}, {"offset": 0.155, "color": "#111"}, {"offset": 0.16, "color": "#111"},
                {"offset": 0.16, "color": "#fff"}, {"offset": 0.175, "color": "#fff"}, {"offset": 0.175, "color": "#111"}, {"offset": 0.18, "color": "#111"},
                {"offset": 0.18, "color": "#fff"}, {"offset": 0.195, "color": "#fff"}, {"offset": 0.195, "color": "#111"}, {"offset": 0.2, "color": "#111"},
                {"offset": 0.2, "color": "#fff"}, {"offset": 0.215, "color": "#fff"}, {"offset": 0.215, "color": "#111"}, {"offset": 0.22, "color": "#111"},
                {"offset": 0.22, "color": "#fff"}, {"offset": 0.235, "color": "#fff"}, {"offset": 0.235, "color": "#111"}, {"offset": 0.24, "color": "#111"},
                {"offset": 0.24, "color": "#fff"}, {"offset": 0.255, "color": "#fff"}, {"offset": 0.255, "color": "#111"}, {"offset": 0.26, "color": "#111"},
                {"offset": 0.26, "color": "#fff"}, {"offset": 0.275, "color": "#fff"}, {"offset": 0.275, "color": "#111"}, {"offset": 0.28, "color": "#111"},
                {"offset": 0.28, "color": "#fff"}, {"offset": 0.295, "color": "#fff"}, {"offset": 0.295, "color": "#111"}, {"offset": 0.3, "color": "#111"},
                {"offset": 0.3, "color": "#fff"}, {"offset": 0.315, "color": "#fff"}, {"offset": 0.315, "color": "#111"}, {"offset": 0.32, "color": "#111"},
                {"offset": 0.32, "color": "#fff"}, {"offset": 0.335, "color": "#fff"}, {"offset": 0.335, "color": "#111"}, {"offset": 0.34, "color": "#111"},
                {"offset": 0.34, "color": "#fff"}, {"offset": 0.355, "color": "#fff"}, {"offset": 0.355, "color": "#111"}, {"offset": 0.36, "color": "#111"},
                {"offset": 0.36, "color": "#fff"}, {"offset": 0.375, "color": "#fff"}, {"offset": 0.375, "color": "#111"}, {"offset": 0.38, "color": "#111"},
                {"offset": 0.38, "color": "#fff"}, {"offset": 0.395, "color": "#fff"}, {"offset": 0.395, "color": "#111"}, {"offset": 0.4, "color": "#111"},
                {"offset": 0.4, "color": "#fff"}, {"offset": 0.415, "color": "#fff"}, {"offset": 0.415, "color": "#111"}, {"offset": 0.42, "color": "#111"},
                {"offset": 0.42, "color": "#fff"}, {"offset": 0.435, "color": "#fff"}, {"offset": 0.435, "color": "#111"}, {"offset": 0.44, "color": "#111"},
                {"offset": 0.44, "color": "#fff"}, {"offset": 0.455, "color": "#fff"}, {"offset": 0.455, "color": "#111"}, {"offset": 0.46, "color": "#111"},
                {"offset": 0.46, "color": "#fff"}, {"offset": 0.475, "color": "#fff"}, {"offset": 0.475, "color": "#111"}, {"offset": 0.48, "color": "#111"},
                {"offset": 0.48, "color": "#fff"}, {"offset": 0.495, "color": "#fff"}, {"offset": 0.495, "color": "#111"}, {"offset": 0.5, "color": "#111"},
                {"offset": 0.5, "color": "#fff"}, {"offset": 0.515, "color": "#fff"}, {"offset": 0.515, "color": "#111"}, {"offset": 0.52, "color": "#111"},
                {"offset": 0.52, "color": "#fff"}, {"offset": 0.535, "color": "#fff"}, {"offset": 0.535, "color": "#111"}, {"offset": 0.54, "color": "#111"},
                {"offset": 0.54, "color": "#fff"}, {"offset": 0.555, "color": "#fff"}, {"offset": 0.555, "color": "#111"}, {"offset": 0.56, "color": "#111"},
                {"offset": 0.56, "color": "#fff"}, {"offset": 0.575, "color": "#fff"}, {"offset": 0.575, "color": "#111"}, {"offset": 0.58, "color": "#111"},
                {"offset": 0.58, "color": "#fff"}, {"offset": 0.595, "color": "#fff"}, {"offset": 0.595, "color": "#111"}, {"offset": 0.6, "color": "#111"},
                {"offset": 0.6, "color": "#fff"}, {"offset": 0.615, "color": "#fff"}, {"offset": 0.615, "color": "#111"}, {"offset": 0.62, "color": "#111"},
                {"offset": 0.62, "color": "#fff"}, {"offset": 0.635, "color": "#fff"}, {"offset": 0.635, "color": "#111"}, {"offset": 0.64, "color": "#111"},
                {"offset": 0.64, "color": "#fff"}, {"offset": 0.655, "color": "#fff"}, {"offset": 0.655, "color": "#111"}, {"offset": 0.66, "color": "#111"},
                {"offset": 0.66, "color": "#fff"}, {"offset": 0.675, "color": "#fff"}, {"offset": 0.675, "color": "#111"}, {"offset": 0.68, "color": "#111"},
                {"offset": 0.68, "color": "#fff"}, {"offset": 0.695, "color": "#fff"}, {"offset": 0.695, "color": "#111"}, {"offset": 0.7, "color": "#111"},
                {"offset": 0.7, "color": "#fff"}, {"offset": 0.715, "color": "#fff"}, {"offset": 0.715, "color": "#111"}, {"offset": 0.72, "color": "#111"},
                {"offset": 0.72, "color": "#fff"}, {"offset": 0.735, "color": "#fff"}, {"offset": 0.735, "color": "#111"}, {"offset": 0.74, "color": "#111"},
                {"offset": 0.74, "color": "#fff"}, {"offset": 0.755, "color": "#fff"}, {"offset": 0.755, "color": "#111"}, {"offset": 0.76, "color": "#111"},
                {"offset": 0.76, "color": "#fff"}, {"offset": 0.775, "color": "#fff"}, {"offset": 0.775, "color": "#111"}, {"offset": 0.78, "color": "#111"},
                {"offset": 0.78, "color": "#fff"}, {"offset": 0.795, "color": "#fff"}, {"offset": 0.795, "color": "#111"}, {"offset": 0.8, "color": "#111"},
                {"offset": 0.8, "color": "#fff"}, {"offset": 0.815, "color": "#fff"}, {"offset": 0.815, "color": "#111"}, {"offset": 0.82, "color": "#111"},
                {"offset": 0.82, "color": "#fff"}, {"offset": 0.835, "color": "#fff"}, {"offset": 0.835, "color": "#111"}, {"offset": 0.84, "color": "#111"},
                {"offset": 0.84, "color": "#fff"}, {"offset": 0.855, "color": "#fff"}, {"offset": 0.855, "color": "#111"}, {"offset": 0.86, "color": "#111"},
                {"offset": 0.86, "color": "#fff"}, {"offset": 0.875, "color": "#fff"}, {"offset": 0.875, "color": "#111"}, {"offset": 0.88, "color": "#111"},
                {"offset": 0.88, "color": "#fff"}, {"offset": 0.895, "color": "#fff"}, {"offset": 0.895, "color": "#111"}, {"offset": 0.9, "color": "#111"},
                {"offset": 0.9, "color": "#fff"}, {"offset": 0.915, "color": "#fff"}, {"offset": 0.915, "color": "#111"}, {"offset": 0.92, "color": "#111"},
                {"offset": 0.92, "color": "#fff"}, {"offset": 0.935, "color": "#fff"}, {"offset": 0.935, "color": "#111"}, {"offset": 0.94, "color": "#111"},
                {"offset": 0.94, "color": "#fff"}, {"offset": 0.955, "color": "#fff"}, {"offset": 0.955, "color": "#111"}, {"offset": 0.96, "color": "#111"},
                {"offset": 0.96, "color": "#fff"}, {"offset": 0.975, "color": "#fff"}, {"offset": 0.975, "color": "#111"}, {"offset": 0.98, "color": "#111"},
                {"offset": 0.98, "color": "#fff"}, {"offset": 0.995, "color": "#fff"}, {"offset": 0.995, "color": "#111"}, {"offset": 1, "color": "#111"}]}
        }
      }
    },
    {
      "transform": [{"filter": "datum.treatment === 'Normal Saline' || datum.treatment === '50 mg extract/kg'"}],
      "mark": {"type": "bar", "stroke": "black", "strokeWidth": 4.5, "blend": "difference"},
      "encoding": {
        "fill": {
          "condition": [
            {"test": "datum.treatment === 'Normal Saline'", "value": {"gradient": "linear", "x1": 0, "y1": 0, "x2": 1, "y2": 0, "stops": [
                {"offset": 0, "color": "#fff"}, {"offset": 0.0909, "color": "#fff"}, {"offset": 0.0909, "color": "#000"}, {"offset": 0.1818, "color": "#000"},
                {"offset": 0.1818, "color": "#fff"}, {"offset": 0.2727, "color": "#fff"}, {"offset": 0.2727, "color": "#000"}, {"offset": 0.3636, "color": "#000"},
                {"offset": 0.3636, "color": "#fff"}, {"offset": 0.4545, "color": "#fff"}, {"offset": 0.4545, "color": "#000"}, {"offset": 0.5455, "color": "#000"},
                {"offset": 0.5455, "color": "#fff"}, {"offset": 0.6364, "color": "#fff"}, {"offset": 0.6364, "color": "#000"}, {"offset": 0.7273, "color": "#000"},
                {"offset": 0.7273, "color": "#fff"}, {"offset": 0.8182, "color": "#fff"}, {"offset": 0.8182, "color": "#000"}, {"offset": 0.9091, "color": "#000"},
                {"offset": 0.9091, "color": "#fff"}, {"offset": 1, "color": "#fff"}]}}
          ],
          "value": {"gradient": "linear", "x1": 0, "y1": 0, "x2": 1, "y2": 0, "stops": [
                {"offset": 0, "color": "#fff"}, {"offset": 0.1429, "color": "#fff"}, {"offset": 0.1429, "color": "#000"}, {"offset": 0.2857, "color": "#000"},
                {"offset": 0.2857, "color": "#fff"}, {"offset": 0.4286, "color": "#fff"}, {"offset": 0.4286, "color": "#000"}, {"offset": 0.5714, "color": "#000"},
                {"offset": 0.5714, "color": "#fff"}, {"offset": 0.7143, "color": "#fff"}, {"offset": 0.7143, "color": "#000"}, {"offset": 0.8571, "color": "#000"},
                {"offset": 0.8571, "color": "#fff"}, {"offset": 1, "color": "#fff"}]}
        }
      }
    },
    {
      "transform": [{"filter": "datum.upper != null"}],
      "mark": {"type": "rule", "color": "black", "strokeWidth": 4, "opacity": 1},
      "encoding": {
        "y2": {"field": "upper"}
      }
    },
    {
      "transform": [{"filter": "datum.upper != null"}],
      "mark": {"type": "tick", "color": "black", "thickness": 4.5, "size": 20, "orient": "horizontal", "opacity": 1},
      "encoding": {
        "y": {"field": "upper", "type": "quantitative", "title": "Percentage (%)"}
      }
    },
    {
      "transform": [{"filter": "datum.sig == 'c'"}],
      "mark": {"type": "text", "font": "Liberation Serif", "fontSize": 17, "dy": -12, "baseline": "alphabetic", "color": "black"},
      "encoding": {
        "y": {"field": "upper", "type": "quantitative", "title": "Percentage (%)"},
        "text": {"field": "sig"}
      }
    }
  ],
  "config": {
    "view": {"stroke": "black", "strokeWidth": 2},
    "axis": {"grid": false}
  }
}
